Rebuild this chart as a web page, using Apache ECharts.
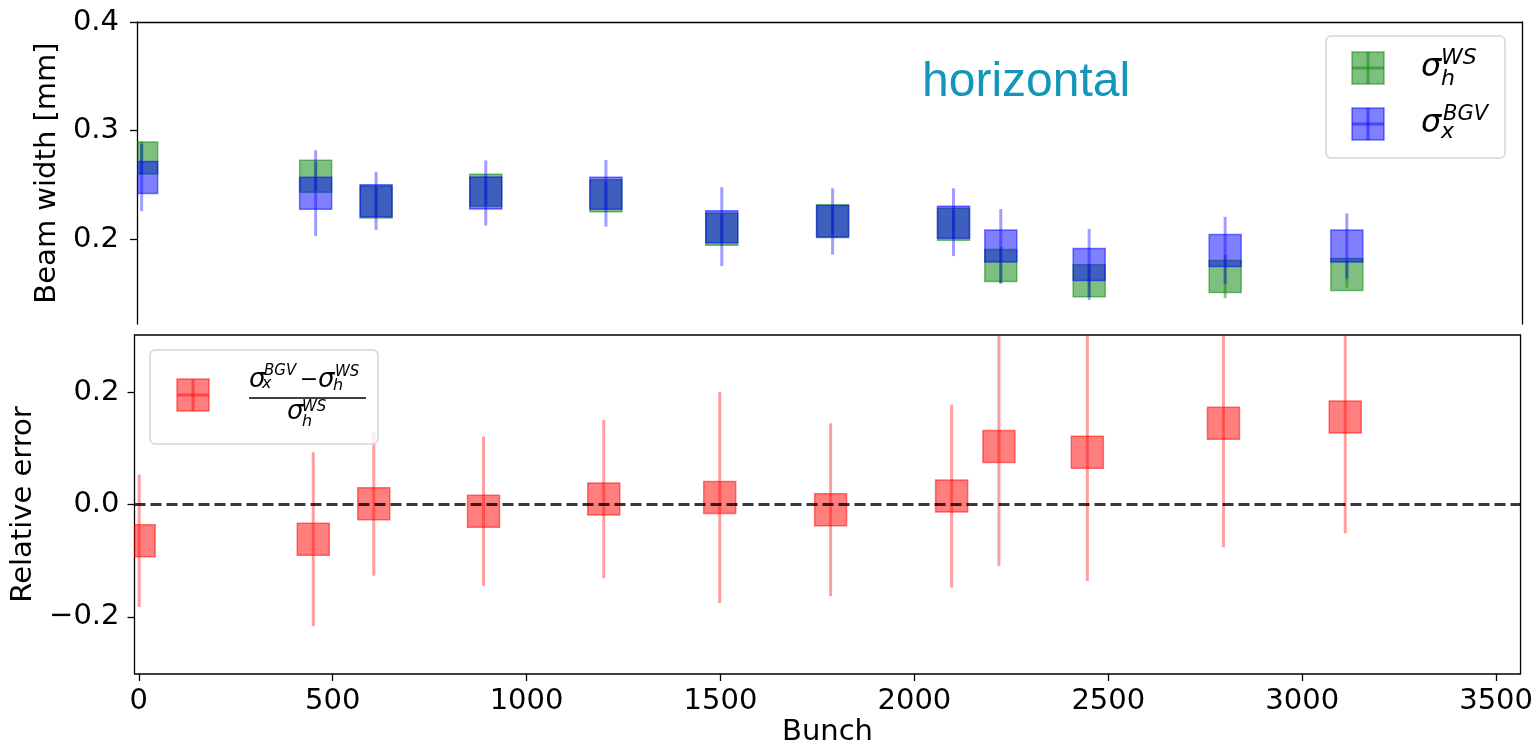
<!DOCTYPE html>
<html><head><meta charset="utf-8">
<script src="https://cdn.jsdelivr.net/npm/echarts@6/dist/echarts.min.js"></script>
<style>html,body{margin:0;padding:0;background:#fff}#c{width:1536px;height:748px}</style>
</head><body><div id="c"></div>
<script>
// ---- data ----
const bunch    = [1, 450, 606, 889, 1199, 1498, 1784, 2096, 2218, 2446, 2797, 3111];
const wsWidth  = [0.2749, 0.258, 0.2343, 0.2451, 0.240, 0.2093, 0.2171, 0.2139, 0.1759, 0.1619, 0.1658, 0.1675];
const wsErr    = [0.015, 0.013, 0.013, 0.013, 0.013, 0.013, 0.013, 0.013, 0.017, 0.015, 0.020, 0.012];
const bgvWidth = [0.2568, 0.2424, 0.2354, 0.2426, 0.2423, 0.2116, 0.2164, 0.2157, 0.1938, 0.1768, 0.1897, 0.1937];
const bgvErr   = [0.031, 0.0395, 0.0267, 0.030, 0.0306, 0.0363, 0.0305, 0.0312, 0.034, 0.0327, 0.031, 0.030];
const relErr   = [-0.0646, -0.0619, 0.0012, -0.012, 0.0097, 0.0124, -0.0094, 0.015, 0.1032, 0.0929, 0.1446, 0.1558];
const relUnc   = [0.118, 0.155, 0.128, 0.133, 0.141, 0.188, 0.154, 0.163, 0.213, 0.229, 0.221, 0.207];
const xTicks   = [0, 500, 1000, 1500, 2000, 2500, 3000, 3500];
const topYTicks = [0.2, 0.3, 0.4];
const botYTicks = [-0.2, 0.0, 0.2];
const xLabel = 'Bunch';
const topYLabel = 'Beam width [mm]';
const botYLabel = 'Relative error';
const panelTitle = 'horizontal';

const FONT = 'DejaVu Sans';
const chart = echarts.init(document.getElementById('c'), null, {renderer: 'canvas'});

function makeRender(fill, stroke, errColor) {
  return function (params, api) {
    const x = api.value(0), y = api.value(1), e = api.value(2);
    const c = api.coord([x, y]);
    const t = api.coord([x, y + e]);
    const b = api.coord([x, y - e]);
    const s = 32;
    return {
      type: 'group',
      children: [
        {type: 'line', shape: {x1: c[0], y1: t[1], x2: c[0], y2: b[1]}, style: {stroke: errColor, lineWidth: 3}},
        {type: 'rect', shape: {x: c[0] - s / 2, y: c[1] - s / 2, width: s, height: s}, style: {fill: fill, stroke: stroke, lineWidth: 1.5}}
      ]
    };
  };
}
const zip = (a, b, c) => a.map((v, i) => [v, b[i], c[i]]);
const fmt = v => (v < 0 ? '\u2212' : '') + Math.abs(v).toFixed(1);

const xMin = -11, xMax = 3563;
const spine = {show: true, onZero: false, lineStyle: {color: '#000', width: 1.3}};
const noSpine = {show: false, onZero: false};
const tickStyle = {color: '#000', width: 1.3};

// legend graphics
function sigma(x, y, size) {
  return {type: 'text', x: x, y: y, style: {text: '\u03c3', font: 'italic ' + size + 'px "DejaVu Sans"', fill: '#000', textVerticalAlign: 'middle'}, z: 101};
}
function script(txt, x, y, size) {
  return {type: 'text', x: x, y: y, style: {text: txt, font: 'italic ' + size + 'px "DejaVu Sans"', fill: '#000', textVerticalAlign: 'middle'}, z: 101};
}
function icon(x, y, fillC, lineC) {
  return [
    {type: 'rect', shape: {x: x, y: y, width: 32, height: 32}, style: {fill: fillC, stroke: fillC, lineWidth: 1.5}, z: 101},
    {type: 'line', shape: {x1: x + 16, y1: y, x2: x + 16, y2: y + 32}, style: {stroke: lineC, lineWidth: 3}, z: 101},
    {type: 'line', shape: {x1: x, y1: y + 16, x2: x + 32, y2: y + 16}, style: {stroke: lineC, lineWidth: 3}, z: 101}
  ];
}

const graphics = [
  {type: 'text', x: 922, y: 83, style: {text: panelTitle, font: '48px "Liberation Sans"', fill: '#1396b9', textVerticalAlign: 'middle'}, z: 100},
  // legend top
  {type: 'rect', shape: {x: 1326, y: 36, width: 179, height: 122, r: 5}, style: {fill: 'rgba(255,255,255,0.8)', stroke: '#d6d6d6', lineWidth: 1.5}, z: 100},
  ...icon(1352, 52, 'rgba(0,128,0,0.5)', 'rgba(0,128,0,0.45)'),
  ...icon(1352, 108, 'rgba(0,0,255,0.5)', 'rgba(0,0,255,0.45)'),
  sigma(1421, 68, 32), script('WS', 1441, 58, 22), script('h', 1441, 79, 22),
  sigma(1421, 124, 32), script('BGV', 1443, 115, 21), script('x', 1441, 132, 22),
  // legend bottom
  {type: 'rect', shape: {x: 150, y: 350, width: 228, height: 94, r: 5}, style: {fill: 'rgba(255,255,255,0.8)', stroke: '#d6d6d6', lineWidth: 1.5}, z: 100},
  ...icon(177, 379, 'rgba(255,0,0,0.5)', 'rgba(255,0,0,0.45)'),
  sigma(249, 380, 26), script('BGV', 264, 371, 15), script('x', 262, 384, 16),
  {type: 'text', x: 309, y: 380, style: {text: '\u2212', font: '22px "DejaVu Sans"', fill: '#000', textAlign: 'center', textVerticalAlign: 'middle'}, z: 101},
  sigma(318, 380, 26), script('WS', 335, 372, 15), script('h', 333, 386, 16),
  {type: 'line', shape: {x1: 249, y1: 398, x2: 366, y2: 398}, style: {stroke: '#000', lineWidth: 1.5}, z: 101},
  sigma(287, 412, 26), script('WS', 302, 407, 15), script('h', 302, 422, 16)
];

const option = {
  animation: false,
  backgroundColor: '#fff',
  grid: [
    {left: 137, right: 14, top: 22, height: 302},
    {left: 134.5, right: 14.3, top: 335, height: 341, show: true, borderColor: '#000', borderWidth: 1.3, backgroundColor: 'transparent'}
  ],
  xAxis: [
    {gridIndex: 0, type: 'value', min: xMin, max: xMax, position: 'top', splitLine: {show: false},
      axisLine: spine, axisTick: {show: false}, axisLabel: {show: false}},
    {gridIndex: 1, type: 'value', min: xMin, max: xMax, position: 'bottom', splitLine: {show: false}, axisLine: noSpine,
      name: xLabel, nameLocation: 'middle', nameGap: 44,
      nameTextStyle: {fontFamily: FONT, fontSize: 29, color: '#000'},
      axisTick: {show: true, customValues: xTicks, length: 7, lineStyle: tickStyle},
      axisLabel: {customValues: xTicks, margin: 13, fontFamily: FONT, fontSize: 29, color: '#000', formatter: v => String(v)}
    }
  ],
  yAxis: [
    {gridIndex: 0, type: 'value', min: 0.122, max: 0.4, splitLine: {show: false}, axisLine: spine,
      name: topYLabel, nameLocation: 'middle', nameGap: 56, nameRotate: 90,
      nameTextStyle: {fontFamily: FONT, fontSize: 29, color: '#000'},
      axisTick: {show: true, customValues: topYTicks, length: 7, lineStyle: tickStyle},
      axisLabel: {customValues: topYTicks, margin: 18, fontFamily: FONT, fontSize: 29, color: '#000', formatter: fmt}
    },
    {gridIndex: 1, type: 'value', min: -0.302, max: 0.302, position: 'left', splitLine: {show: false}, axisLine: noSpine,
      name: botYLabel, nameLocation: 'middle', nameGap: 86, nameRotate: 90,
      nameTextStyle: {fontFamily: FONT, fontSize: 29, color: '#000'},
      axisTick: {show: true, customValues: botYTicks, length: 7, lineStyle: tickStyle},
      axisLabel: {customValues: botYTicks, margin: 15, fontFamily: FONT, fontSize: 29, color: '#000', formatter: fmt}
    },
    {gridIndex: 0, type: 'value', min: 0.122, max: 0.4, position: 'right', splitLine: {show: false},
      axisLine: spine, axisTick: {show: false}, axisLabel: {show: false}}
  ],
  series: [
    {type: 'custom', name: 'ws', xAxisIndex: 0, yAxisIndex: 0, clip: true,
      renderItem: makeRender('rgba(0,128,0,0.5)', 'rgba(0,128,0,0.5)', 'rgba(0,128,0,0.45)'),
      data: zip(bunch, wsWidth, wsErr), z: 2},
    {type: 'custom', name: 'bgv', xAxisIndex: 0, yAxisIndex: 0, clip: true,
      renderItem: makeRender('rgba(0,0,255,0.5)', 'rgba(0,0,255,0.5)', 'rgba(0,0,255,0.38)'),
      data: zip(bunch, bgvWidth, bgvErr), z: 3},
    {type: 'line', xAxisIndex: 1, yAxisIndex: 1, data: [], symbol: 'none',
      markLine: {silent: true, symbol: 'none', label: {show: false},
        lineStyle: {color: 'rgba(0,0,0,0.78)', type: [11, 5], width: 3},
        data: [{yAxis: 0}]}, z: 4},
    {type: 'custom', name: 'rel', xAxisIndex: 1, yAxisIndex: 1, clip: true,
      renderItem: makeRender('rgba(255,0,0,0.5)', 'rgba(255,0,0,0.5)', 'rgba(255,0,0,0.38)'),
      data: zip(bunch, relErr, relUnc), z: 3}
  ],
  graphic: graphics
};
chart.setOption(option);
</script>
</body></html>
